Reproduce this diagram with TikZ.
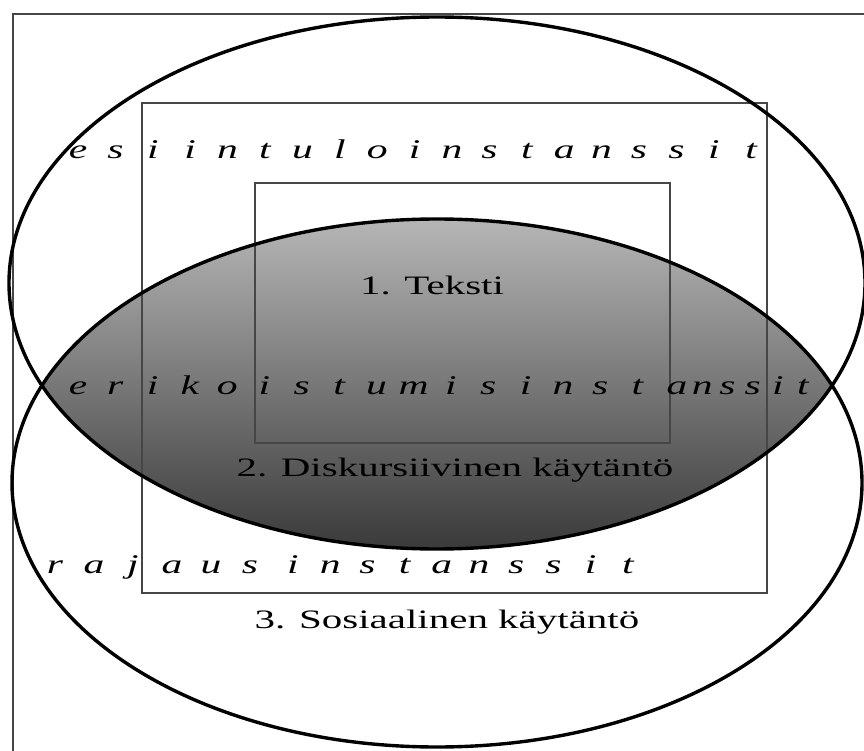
\documentclass[tikz,border=0pt]{standalone}
\usepackage{fontspec}
\setmainfont{Liberation Serif}[FakeStretch=1.54]
\usepackage{xcolor}
\definecolor{lenstop}{RGB}{182,182,182}
\definecolor{lensbottom}{RGB}{58,58,58}
\definecolor{boxline}{RGB}{70,70,70}
\tikzset{ring/.style={draw=black,line width=3.4pt},
    frame/.style={draw=boxline,line width=1.4pt},
    title/.style={inner sep=0pt,font=\fontsize{26.6}{30}\selectfont},
    spaced/.style={inner sep=0pt,text height=1.1ex,text depth=0.25ex,
        font=\fontsize{27}{30}\selectfont\itshape}}

\begin{document}
\begin{tikzpicture}[x=1pt,y=-1pt]
\path[use as bounding box,fill=white] (0,0) rectangle (864,751);
% shaded overlap
\begin{scope}
    \clip (437,283) ellipse [x radius=428,y radius=266];
    \clip (437,483) ellipse [x radius=425,y radius=264];
    \shade[top color=lenstop,bottom color=lensbottom] (0,218) rectangle (864,549);
\end{scope}
% frames
\draw[frame] (864,14) -- (13,14) -- (13,751);
\draw[frame] (142,103) rectangle (767,593);
\draw[frame] (255,183) rectangle (670,443);
% circles
\draw[ring] (437,283) ellipse [x radius=428,y radius=266];
\draw[ring] (437,483) ellipse [x radius=425,y radius=264];
% labels
\node[title] (teksti) at (432,285) {1. Teksti};
\node[title] (diskurssi) at (455,470) {2. Diskursiivinen käytäntö};
\node[title] (sosiaali) at (447,622) {3. Sosiaalinen käytäntö};
\foreach \ch [count=\i from 0] in {e,s,i,i,n,t,u,l,o,i,n,s,t,a,n,s,s,i,t}
    \node[spaced] (esi\i) at (78+37.4*\i,157) {\ch};
\foreach \ch [count=\i from 0] in {e,r,i,k,o,i,s,t,u,m,i,s,i,n,s,t}
    \node[spaced] (eri\i) at (78+37.3*\i,393) {\ch};
\foreach \ch [count=\i from 0] in {a,n,s,s,i,t}
    \node[spaced] (ans\i) at (677+25.2*\i,393) {\ch};
\foreach \ch [count=\i from 0] in {r,a,j,a,u,s}
    \node[spaced] (raj\i) at (55+39*\i,572) {\ch};
\foreach \ch [count=\i from 0] in {i,n,s,t,a,n,s,s,i,t}
    \node[spaced] (ins\i) at (293+37.2*\i,572) {\ch};
\end{tikzpicture}
\end{document}
